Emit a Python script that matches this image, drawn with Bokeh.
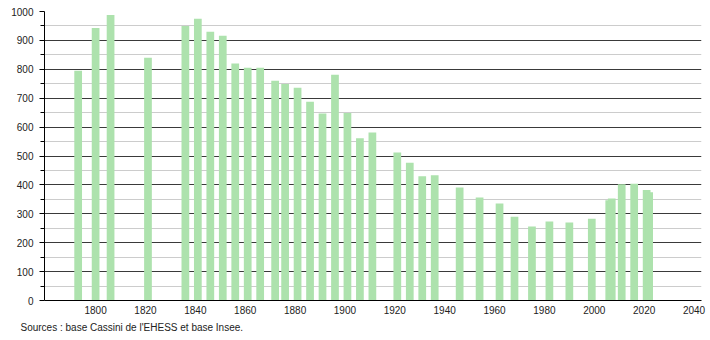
from bokeh.plotting import figure
from bokeh.models import ColumnDataSource, FixedTicker, Title, Range1d
from bokeh.embed import file_html
from bokeh.resources import INLINE

years = [1793, 1800, 1806, 1821, 1836, 1841, 1846, 1851, 1856, 1861, 1866, 1872,
         1876, 1881, 1886, 1891, 1896, 1901, 1906, 1911, 1921, 1926, 1931, 1936,
         1946, 1954, 1962, 1968, 1975, 1982, 1990, 1999, 2006, 2007, 2011, 2016,
         2021, 2022]
population = [795, 943, 988, 840, 950, 975, 930, 916, 820, 805, 805, 760,
              749, 736, 688, 647, 781, 649, 561, 581, 512, 477, 430, 433,
              391, 356, 336, 290, 256, 273, 270, 283, 347, 353, 402, 404,
              382, 375]
x_ticks = [1800, 1820, 1840, 1860, 1880, 1900, 1920, 1940, 1960, 1980, 2000, 2020, 2040]
y_ticks = [0, 100, 200, 300, 400, 500, 600, 700, 800, 900, 1000]
source_text = "Sources : base Cassini de l'EHESS et base Insee."

src = ColumnDataSource(data=dict(year=years, pop=population))

p = figure(width=710, height=340, output_backend="svg", toolbar_location=None,
           x_range=Range1d(1779.5, 2043.0), y_range=Range1d(0, 1000),
           min_border_left=44, min_border_right=9, min_border_top=11,
           min_border_bottom=40, background_fill_color="white",
           border_fill_color="white")
p.outline_line_color = None

p.vbar(x="year", top="pop", width=3.1, source=src,
       fill_color="#ade2ad", line_color=None)

p.xgrid.grid_line_color = None
p.ygrid.grid_line_color = "#3a3a3a"
p.ygrid.grid_line_width = 1
p.ygrid.minor_grid_line_color = "#cccccc"
p.ygrid.minor_grid_line_width = 1

p.xaxis.ticker = FixedTicker(ticks=x_ticks)
p.yaxis.ticker = FixedTicker(ticks=y_ticks,
                             minor_ticks=[50 + 100 * i for i in range(10)])

for ax in (p.xaxis[0], p.yaxis[0]):
    ax.axis_line_color = "black"
    ax.axis_line_width = 1
    ax.major_label_text_font = "Liberation Sans"
    ax.major_label_text_font_size = "10px"
    ax.major_label_text_color = "#222222"

p.xaxis.major_tick_out = 0
p.xaxis.major_tick_in = 0
p.xaxis.minor_tick_out = 0
p.xaxis.minor_tick_in = 0
p.xaxis.major_label_standoff = 5

p.yaxis.major_tick_out = 5
p.yaxis.major_tick_in = 0
p.yaxis.minor_tick_out = 4
p.yaxis.minor_tick_in = 0
p.yaxis.major_tick_line_color = "black"
p.yaxis.minor_tick_line_color = "black"
p.yaxis.major_label_standoff = 6

t = Title(text=source_text, align="left", offset=-24, standoff=6,
          text_font="Liberation Sans", text_font_size="10px",
          text_font_style="normal", text_color="#222222")
p.add_layout(t, "below")

open("out.html", "w").write(file_html(p, INLINE))
